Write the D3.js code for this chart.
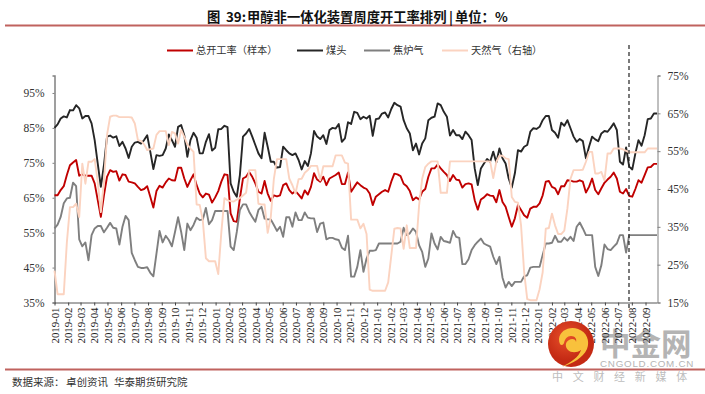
<!DOCTYPE html>
<html><head><meta charset="utf-8">
<script src="https://cdn.jsdelivr.net/npm/d3@7"></script>
<style>
html,body{margin:0;padding:0;background:#fff;overflow:hidden}
svg{display:block}
</style></head><body>
<svg id="c" width="705" height="394"></svg>
<script>
const titleParts = ["图","39:","甲醇非一体化装置周度开工率排列","|","单位\uFF1A%"];
const sourceParts = ["数据来源\uFF1A","卓创资讯","华泰期货研究院"];
const monthLabels = ["2019-01","2019-02","2019-03","2019-04","2019-05","2019-06","2019-07","2019-08","2019-09","2019-10","2019-11","2019-12",
"2020-01","2020-02","2020-03","2020-04","2020-05","2020-06","2020-07","2020-08","2020-09","2020-10","2020-11","2020-12",
"2021-01","2021-02","2021-03","2021-04","2021-05","2021-06","2021-07","2021-08","2021-09","2021-10","2021-11","2021-12",
"2022-01","2022-02","2022-03","2022-04","2022-05","2022-06","2022-07","2022-08","2022-09"];
const leftTicks = [35,45,55,65,75,85,95];
const rightTicks = [15,25,35,45,55,65,75];
const seriesNames = ["总开工率\uFF08样本\uFF09","煤头","焦炉气","天然气\uFF08右轴\uFF09"];

const total = [65.7,65.7,67.2,68.3,71.5,74.3,75.1,75.8,71.3,71.7,71.3,71.3,71.3,69.1,64.3,59.5,65.7,71.0,72.9,72.4,72.6,69.9,71.7,71.5,69.6,69.4,69.1,68.1,67.2,67.5,68.3,65.3,62.2,66.9,68.4,67.9,69.4,70.5,70.0,69.9,
73.6,73.6,70.5,68.1,70.0,71.7,68.6,66.2,65.1,66.2,65.9,63.6,65.1,66.9,69.6,71.7,71.5,60.5,58.3,58.1,64.8,70.5,71.0,72.4,71.0,69.1,66.7,66.2,69.8,66.2,64.1,65.7,65.4,65.7,68.6,69.1,67.2,66.2,
66.9,65.9,64.8,67.1,65.9,68.1,72.0,70.2,69.6,71.0,68.6,70.5,71.0,71.5,72.2,68.9,68.9,72.2,66.7,68.1,69.4,68.6,67.9,67.5,66.2,62.9,65.3,66.0,66.7,67.2,66.7,69.6,71.9,71.7,71.2,69.0,68.3,66.9,64.3,
65.1,64.5,66.7,67.5,71.0,73.4,73.4,74.5,73.4,72.4,71.5,69.8,71.5,70.2,70.0,67.9,68.9,69.1,68.8,64.3,61.6,64.5,65.1,66.0,65.6,65.5,63.7,67.2,63.8,62.4,59.5,56.7,59.1,62.9,61.5,60.0,59.3,61.9,62.4,
62.4,63.4,65.7,69.6,69.8,68.1,67.7,66.0,68.3,68.3,70.0,69.9,69.6,69.6,70.0,69.6,66.5,68.1,70.5,67.2,66.0,67.7,69.3,70.2,71.0,72.2,70.5,66.7,66.2,67.5,65.5,65.3,67.5,70.0,69.3,71.5,73.7,73.8,74.7,74.7];

const coal = [85.0,86.0,87.7,88.3,88.0,90.1,90.0,91.5,90.6,87.7,88.4,88.4,86.3,81.5,74.8,68.1,74.3,82.5,82.8,82.2,82.6,79.8,81.0,79.1,76.4,79.6,80.8,81.0,80.5,81.5,82.9,78.2,73.2,77.2,77.0,77.2,79.1,83.1,81.5,79.6,
85.3,85.8,82.9,76.7,81.5,83.6,82.2,77.7,77.7,81.0,83.2,78.5,79.3,84.6,84.7,85.6,85.2,69.1,66.7,65.3,71.5,82.5,83.4,84.7,82.5,80.1,77.7,76.3,83.6,79.6,75.3,75.3,73.6,73.8,79.6,78.6,77.7,77.2,
77.7,75.8,73.1,75.5,74.1,77.7,84.1,82.5,81.8,82.9,80.4,84.4,85.0,84.8,86.1,81.0,82.0,86.6,86.1,89.6,89.3,87.5,88.2,87.7,88.5,82.7,87.5,87.7,89.1,89.4,88.0,90.4,92.2,91.5,91.1,87.2,84.9,83.4,78.6,
80.5,77.4,80.5,82.0,87.2,87.9,88.2,92.0,91.5,89.6,88.2,82.8,84.4,82.9,82.9,81.8,83.9,82.9,81.5,73.4,68.6,73.4,74.8,76.1,75.3,78.2,75.1,79.1,76.3,74.8,70.5,67.9,72.0,78.6,78.2,79.6,80.1,83.9,84.9,
84.7,85.3,87.2,88.4,88.4,84.4,83.6,82.2,86.5,85.6,87.2,84.9,82.5,81.0,81.8,81.2,76.3,79.6,82.5,81.7,81.2,83.4,84.1,83.9,85.0,86.3,84.4,75.3,74.5,79.4,73.9,73.1,77.7,81.5,79.9,82.9,87.5,87.7,89.1,89.1];

const cokeGas = [56.2,57.3,59.5,63.4,64.8,65.0,69.3,68.3,53.1,51.1,52.2,47.1,54.3,56.2,56.9,56.9,55.1,56.4,57.8,56.4,56.2,51.6,56.7,59.8,58.6,49.2,47.1,45.2,44.9,44.9,45.1,43.5,42.5,49.0,55.5,52.2,54.1,52.9,51.1,55.2,
59.4,55.2,50.0,57.6,55.7,57.2,59.3,58.6,58.8,62.1,57.4,58.6,61.2,61.2,61.2,61.2,61.2,51.0,50.0,55.2,61.5,63.1,63.1,61.0,59.5,58.1,61.5,62.4,59.0,58.8,58.8,57.2,55.5,56.7,53.8,59.4,59.4,56.7,
60.8,58.6,58.6,60.8,59.3,59.1,59.1,55.2,57.6,57.9,53.1,53.5,53.5,53.1,52.9,50.7,50.0,54.1,42.4,42.4,45.2,50.0,43.8,47.6,49.8,49.8,50.0,51.9,51.9,51.9,51.9,51.9,51.9,51.9,52.4,56.4,54.3,54.8,56.2,
55.2,51.4,49.5,45.2,47.6,54.8,51.9,50.2,53.8,52.6,52.4,52.1,55.5,53.8,53.5,46.0,46.0,47.4,50.0,51.4,52.4,53.3,51.9,51.4,51.0,48.1,46.0,48.1,42.1,39.3,40.9,39.7,40.9,40.9,40.9,42.5,42.8,45.0,45.2,
45.2,45.2,48.6,51.9,51.9,52.1,54.1,52.4,52.4,53.6,52.7,53.8,52.6,56.7,57.9,56.2,54.3,54.3,54.3,45.2,42.6,45.7,51.6,50.3,50.0,51.0,51.9,54.3,54.3,49.3,54.3,54.3,54.3,54.3,54.3,54.3,54.3,54.3,54.3,54.3];

const naturalGas = [23.4,17.2,17.2,17.2,30.9,40.2,40.2,41.1,37.6,51.7,46.4,52.2,52.2,52.9,46.9,38.9,46.9,59.3,64.1,64.4,64.4,64.0,64.0,64.0,64.0,63.9,62.3,57.9,57.7,56.8,55.3,55.5,55.7,59.3,60.3,60.3,60.3,56.6,60.1,59.7,
57.0,60.6,58.8,56.8,55.7,54.8,40.9,40.8,36.7,26.7,25.9,25.9,25.9,22.5,33.6,42.6,42.0,41.8,41.7,42.2,42.6,43.3,44.0,50.0,50.0,50.0,41.1,40.9,40.9,33.4,37.6,47.7,52.9,52.9,52.9,52.9,47.7,46.0,
43.8,47.6,47.7,49.3,50.0,51.1,51.1,51.1,47.3,51.0,51.0,51.0,51.0,53.9,53.9,53.9,52.0,51.7,36.9,36.9,36.9,34.6,35.8,33.1,18.4,18.1,18.1,18.1,18.1,18.1,20.3,27.4,34.5,34.7,34.6,29.2,35.4,29.4,29.4,
29.4,40.7,47.7,50.8,51.7,52.3,52.3,52.3,44.0,44.0,44.0,52.3,52.3,52.3,52.3,52.3,52.3,52.3,52.3,52.3,52.3,52.3,52.3,52.3,52.3,47.9,52.2,53.8,53.8,53.1,52.9,42.9,41.6,41.4,35.4,23.0,15.9,15.6,15.6,
15.6,18.5,23.0,34.5,34.7,38.5,35.4,33.1,33.1,34.0,39.8,47.7,50.0,50.0,50.0,50.1,52.2,54.8,54.8,49.1,49.1,49.5,47.3,54.4,54.4,55.7,55.7,55.7,55.5,55.1,54.7,54.7,54.7,54.7,54.7,54.7,55.7,55.7,55.7,55.7];

const colors = ["#c00000","#262626","#7f7f7f","#fbd3c0"];
const textCol = "#333";
const serif = "'Liberation Serif','Times New Roman',serif";
const cjk = "'Noto Sans CJK SC','Noto Sans',sans-serif";

const svg = d3.select("#c");
const start = new Date(Date.UTC(2019,0,1));
const weeks = total.map((_, i) => d3.utcDay.offset(start, i * 7));
const x = d3.scaleUtc().domain([weeks[0], weeks[weeks.length - 1]]).range([54.5, 657]);
const yL = d3.scaleLinear().domain([35, 100]).range([302.5, 75.5]);
const yR = d3.scaleLinear().domain([15, 75]).range([302.5, 75.5]);
const parseM = d3.utcParse("%Y-%m"), fmtM = d3.utcFormat("%Y-%m");

// header and footer rules
[25.5, 369.5].forEach(y => svg.append("line").attr("x1", 5).attr("x2", 705).attr("y1", y).attr("y2", y)
  .attr("stroke", "#c0625e").attr("stroke-width", 2));

const titleEl = svg.append("text").attr("y", 22).attr("font-family", cjk).attr("font-weight", 700)
  .attr("font-size", 13.3).attr("fill", "#111");
[207, 226, 247, 449, 455].forEach((tx, k) => titleEl.append("tspan").attr("x", tx).text(titleParts[k]));

const srcEl = svg.append("text").attr("y", 386).attr("font-family", cjk).attr("font-size", 10.5).attr("fill", textCol);
[12, 66, 114].forEach((tx, k) => srcEl.append("tspan").attr("x", tx).text(sourceParts[k]));

// watermark sits under the axis labels
const wm = svg.append("g");
const grad = svg.append("defs").append("radialGradient").attr("id", "wmg").attr("cx", "40%").attr("cy", "35%");
grad.append("stop").attr("offset", "0%").attr("stop-color", "#e8502a");
grad.append("stop").attr("offset", "100%").attr("stop-color", "#c42a14");
wm.append("text").attr("x", 600).attr("y", 355).attr("font-family", cjk).attr("font-weight", 700)
  .attr("font-size", 30.5).attr("fill", "#b4b4b4").text("中金网");
wm.append("text").attr("x", 600).attr("y", 367).attr("font-family", "'Liberation Sans',sans-serif")
  .attr("font-size", 9.8).attr("letter-spacing", 0.75).attr("fill", "#b4b4b4").text("CNGOLD.COM.CN");
wm.append("text").attr("x", 552).attr("y", 381).attr("font-family", cjk)
  .attr("font-size", 11).attr("letter-spacing", 9.7).attr("fill", "#bdbdbd").text("中文财经新媒体");

// axes
const gL = svg.append("g").attr("transform", "translate(54.5,0)")
  .call(d3.axisLeft(yL).tickValues(leftTicks).tickSize(2).tickPadding(8).tickFormat(d => d + "%"));
const gR = svg.append("g").attr("transform", "translate(657.5,0)")
  .call(d3.axisRight(yR).tickValues(rightTicks).tickSize(3).tickPadding(7).tickFormat(d => d + "%"));
const gB = svg.append("g").attr("transform", "translate(0,302.5)")
  .call(d3.axisBottom(x).tickValues(monthLabels.map(parseM)).tickSize(3).tickPadding(3).tickFormat(fmtM).tickSizeOuter(0));
[gL, gR, gB].forEach(g => {
  g.attr("font-size", 11.5);
  g.selectAll("text").attr("fill", textCol).style("font-family", serif);
});
gL.select(".domain").attr("stroke", "#808080").attr("stroke-width", 1.5);
gL.selectAll(".tick line").attr("stroke", "#808080");
gR.select(".domain").attr("stroke", "#808080");
gR.selectAll(".tick line").attr("stroke", "#808080");
gB.select(".domain").attr("stroke", "#555");
gB.selectAll(".tick line").attr("stroke", "#444");
gB.selectAll("text").attr("font-size", 10.8).attr("fill", "#222")
  .attr("transform", "rotate(-90)").attr("text-anchor", "end").attr("x", -5).attr("y", 0).attr("dy", "0.34em");

// logo covers part of the labels
const logo = svg.append("g");
logo.append("circle").attr("cx", 571).attr("cy", 344).attr("r", 23).attr("fill", "url(#wmg)");
logo.append("path").attr("d", "M559 339c1-9 11-13 19-10 9 3 12 12 9 20-4 9-14 14-25 18 9-5 17-10 19-17-4 3-10 3-13 0-3-3-3-8 1-10 3-2 7-1 7 2 1-3-1-6-5-6-4 0-6 3-7 7-2 4-5 2-5-4z")
  .attr("fill", "#f8c13c");

// lines
const mk = y => d3.line().x((d, i) => x(weeks[i])).y(d => y(d));
const plot = [[total, yL], [coal, yL], [cokeGas, yL], [naturalGas, yR]];
plot.forEach(([vals, y], k) => svg.append("path").datum(vals).attr("fill", "none")
  .attr("stroke", colors[k]).attr("stroke-width", 1.9).attr("stroke-linejoin", "round").attr("d", mk(y)));

// forecast divider
svg.append("line").attr("x1", 629).attr("x2", 629).attr("y1", 45).attr("y2", 308)
  .attr("stroke", "#222").attr("stroke-width", 1.2).attr("stroke-dasharray", "4 3");

// legend
const legendX = [167, 297, 364, 442];
seriesNames.forEach((n, k) => {
  const g = svg.append("g").attr("transform", `translate(${legendX[k]},50.5)`);
  g.append("line").attr("x2", 26).attr("stroke", colors[k]).attr("stroke-width", 2);
  g.append("text").attr("x", 29).attr("y", 3.8).attr("font-family", cjk).attr("font-size", 10.2).attr("fill", textCol).text(n);
});
</script>
</body></html>
